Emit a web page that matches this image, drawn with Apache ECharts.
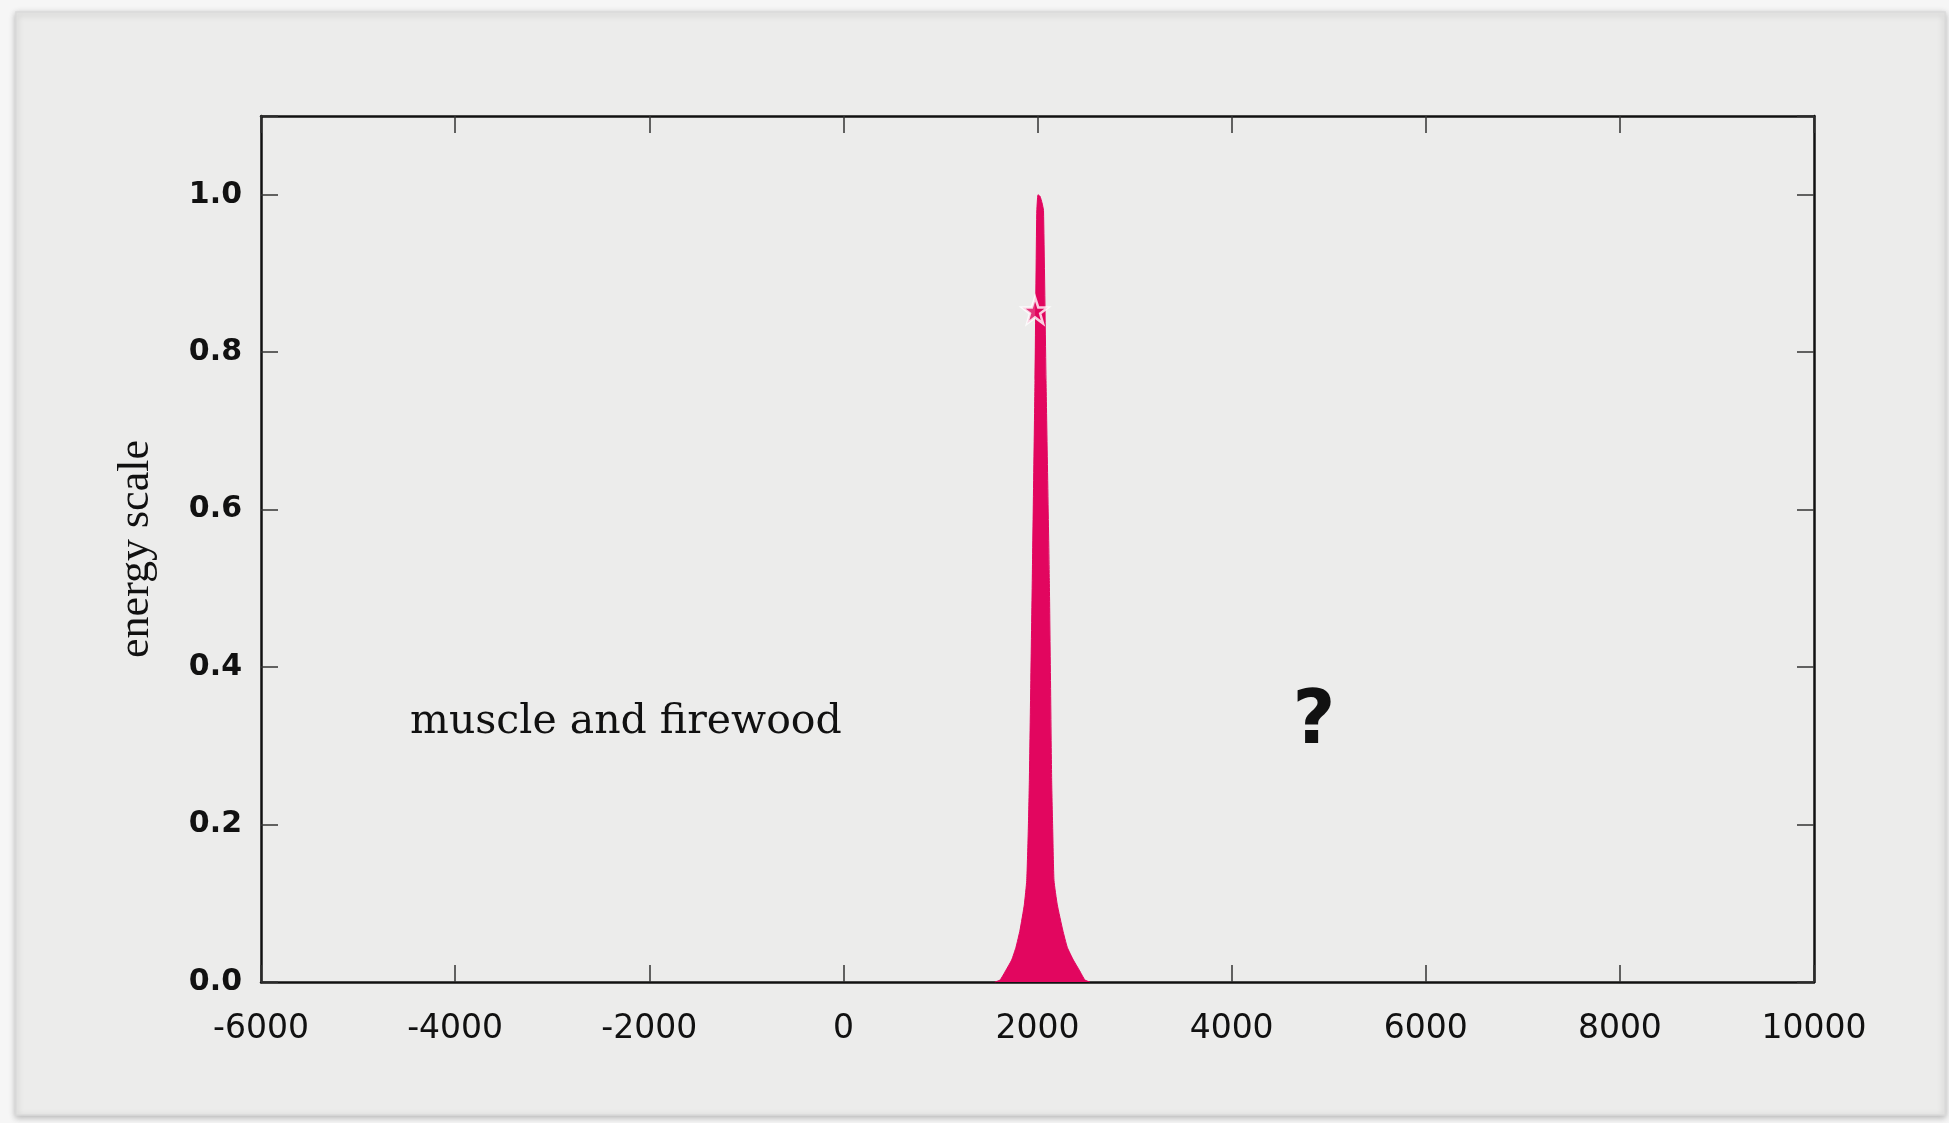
<!DOCTYPE html>
<html>
<head>
<meta charset="utf-8">
<script src="https://cdn.jsdelivr.net/npm/echarts@6/dist/echarts.min.js"></script>
<style>
html,body{margin:0;padding:0;background:#f6f6f6;}
#chart{width:1949px;height:1123px;}
</style>
</head>
<body>
<div id="chart"></div>
<script>
// ---- data ----
var years = [1560, 1614, 1675, 1734, 1778, 1820, 1864, 1889, 1905, 1916, 1931, 1946, 1974, 1992, 2005, 2026, 2046, 2062, 2088, 2122, 2146, 2157, 2170, 2204, 2260, 2307, 2369, 2431, 2489, 2540];
var energy = [0, 0.0025, 0.015, 0.028, 0.044, 0.066, 0.098, 0.129, 0.193, 0.256, 0.383, 0.51, 0.764, 0.976, 1.0, 0.998, 0.99, 0.98, 0.764, 0.51, 0.256, 0.193, 0.129, 0.098, 0.066, 0.044, 0.028, 0.015, 0.0025, 0];
var nowPoint = [1975, 0.853];
var xTicks = [-6000, -4000, -2000, 0, 2000, 4000, 6000, 8000, 10000];
var yTicks = [0.0, 0.2, 0.4, 0.6, 0.8, 1.0];
var yAxisTitle = 'energy scale';
var leftNote = 'muscle and firewood';
var rightNote = '?';

var curve = years.map(function (y, i) { return [y, energy[i]]; });
var pink = '#e2065f';
var starPath = 'path://M50,0 L61.8,35.1 L98.1,35.1 L68.8,56.8 L79.4,91.6 L50,70.3 L20.6,91.6 L31.2,56.8 L1.9,35.1 L38.2,35.1 Z';

function yLabel(v) {
  for (var i = 0; i < yTicks.length; i++) if (Math.abs(yTicks[i] - v) < 1e-6) return v.toFixed(1);
  return '';
}
function xLabel(v) {
  return xTicks.indexOf(Math.round(v)) >= 0 ? String(Math.round(v)) : '';
}

var axisLineStyle = { color: '#111', width: 2.5 };
var tickStyle = { color: '#333', width: 1.5 };

var chart = echarts.init(document.getElementById('chart'));
chart.setOption({
  backgroundColor: '#f6f6f6',
  animation: false,
  graphic: [
    { type: 'rect', z: -10, shape: { x: 16, y: 12, width: 1929, height: 1103 },
      style: { fill: '#ececeb', stroke: '#dadada', lineWidth: 1.5, shadowBlur: 6, shadowColor: 'rgba(0,0,0,0.25)', shadowOffsetY: 2 } },
    { type: 'text', z: 10, x: 410, y: 722,
      style: { text: leftNote, font: '41px "DejaVu Serif"', fill: '#111', verticalAlign: 'middle', align: 'left' } },
    { type: 'text', z: 10, x: 1314, y: 724,
      style: { text: rightNote, font: 'bold 74px "DejaVu Sans"', fill: '#111', verticalAlign: 'middle', align: 'center' } }
  ],
  grid: { left: 261, right: 135, top: 116, bottom: 141, containLabel: false },
  xAxis: [
    { type: 'value', position: 'bottom', min: -6000, max: 10000, interval: 2000,
      axisLine: { show: true, onZero: false, lineStyle: axisLineStyle },
      axisTick: { show: true, inside: true, length: 17, lineStyle: tickStyle },
      axisLabel: { margin: 31, color: '#111', fontFamily: 'DejaVu Sans', fontSize: 33, formatter: xLabel },
      splitLine: { show: false } },
    { type: 'value', position: 'top', min: -6000, max: 10000, interval: 2000,
      axisLine: { show: true, onZero: false, lineStyle: axisLineStyle },
      axisTick: { show: true, inside: true, length: 17, lineStyle: tickStyle },
      axisLabel: { show: false }, splitLine: { show: false } }
  ],
  yAxis: [
    { type: 'value', position: 'left', min: 0, max: 1.1, interval: 0.2,
      name: yAxisTitle, nameLocation: 'middle', nameRotate: 90, nameGap: 103,
      nameTextStyle: { fontFamily: 'Liberation Serif', fontSize: 44, color: '#111' },
      axisLine: { show: true, onZero: false, lineStyle: axisLineStyle },
      axisTick: { show: true, inside: true, length: 17, lineStyle: tickStyle },
      axisLabel: { margin: 19, color: '#111', fontFamily: 'DejaVu Sans', fontWeight: 'bold', fontSize: 30, formatter: yLabel },
      splitLine: { show: false } },
    { type: 'value', position: 'right', min: 0, max: 1.1, interval: 0.2,
      axisLine: { show: true, onZero: false, lineStyle: axisLineStyle },
      axisTick: { show: true, inside: true, length: 17, lineStyle: tickStyle },
      axisLabel: { show: false }, splitLine: { show: false } }
  ],
  series: [
    { type: 'line', xAxisIndex: 0, yAxisIndex: 0, data: curve, smooth: 0.15,
      symbol: 'none', lineStyle: { color: pink, width: 1 },
      areaStyle: { color: pink, opacity: 1 }, z: 3 },
    { type: 'scatter', xAxisIndex: 0, yAxisIndex: 0, data: [nowPoint],
      symbol: starPath, symbolSize: 26,
      itemStyle: { color: pink, borderColor: '#ffffff', borderWidth: 2.5 }, z: 5 }
  ]
});
</script>
</body>
</html>
